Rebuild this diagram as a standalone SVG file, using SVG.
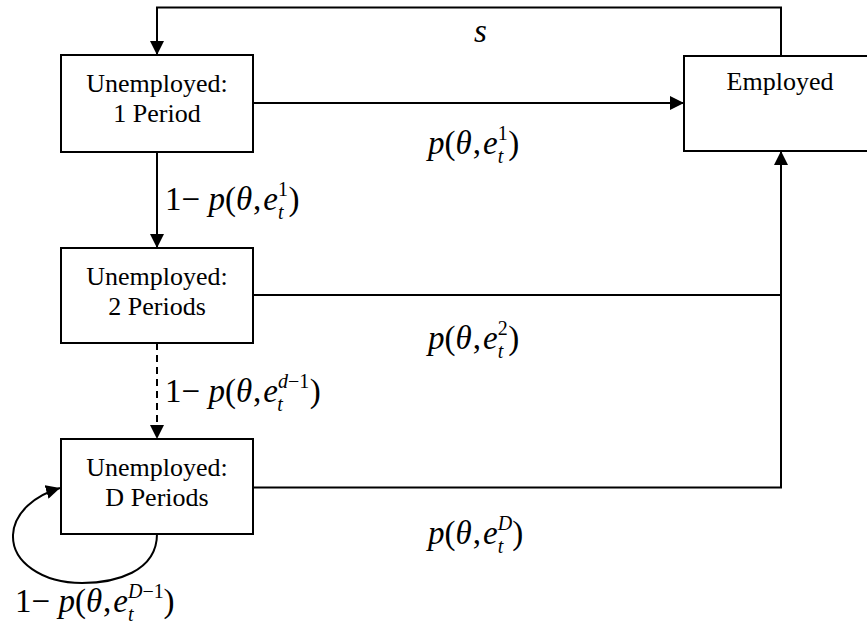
<svg xmlns="http://www.w3.org/2000/svg" width="867" height="628" viewBox="0 0 867 628">
<style>
.box{fill:#fff;stroke:#000;stroke-width:2}
.ln{fill:none;stroke:#000;stroke-width:2}
.dash{stroke-dasharray:7,5}
text{font-family:'Liberation Serif','Times New Roman','DejaVu Serif',serif;fill:#000}
.bt{font-size:26px;text-anchor:middle}
.m{font-size:33px}
.i{font-style:italic}
.s{font-size:20px}
</style>
<defs>
<marker id="ah" markerUnits="userSpaceOnUse" markerWidth="14" markerHeight="14" refX="14" refY="7" orient="auto">
<path d="M0,0 L14,7 L0,14 z" fill="#000"/>
</marker>
</defs>
<rect width="867" height="628" fill="#fff"/>
<g id="connectors">
<path class="ln" d="M781,56 V7.5 H157 V55" marker-end="url(#ah)"/>
<path class="ln" d="M253,103 H684" marker-end="url(#ah)"/>
<path class="ln" d="M157,152 V248" marker-end="url(#ah)"/>
<path class="ln dash" d="M157,343 V439" marker-end="url(#ah)"/>
<path class="ln" d="M253,295 H781"/>
<path class="ln" d="M253,487.5 H781 V151" marker-end="url(#ah)"/>
<path class="ln" d="M157,534 C157,572 115,583 82,583 C42,583 12,562 13,535 C14,512 36,495 60,488" marker-end="url(#ah)"/>
</g>
<g id="u1">
<rect class="box" x="61" y="55" width="192" height="97"/>
<text class="bt" x="157" y="92">Unemployed:</text>
<text class="bt" x="157" y="122">1 Period</text>
</g>
<g id="u2">
<rect class="box" x="61" y="248" width="192" height="95"/>
<text class="bt" x="157" y="285">Unemployed:</text>
<text class="bt" x="157" y="315">2 Periods</text>
</g>
<g id="ud">
<rect class="box" x="61" y="439" width="192" height="95"/>
<text class="bt" x="157" y="476">Unemployed:</text>
<text class="bt" x="157" y="506">D Periods</text>
</g>
<g id="employed">
<rect class="box" x="684" y="56" width="200" height="95"/>
<text class="bt" x="780" y="90">Employed</text>
</g>
<g id="labels">
<text class="m i" x="474" y="42">s</text>
<text class="m" x="428" y="154"><tspan class="i">p</tspan>(<tspan class="i">θ</tspan><tspan dx="1">,</tspan><tspan class="i" dx="2">e</tspan><tspan class="s" dy="-14">1</tspan><tspan class="s i" dx="-10" dy="23">t</tspan><tspan dx="5" dy="-9">)</tspan></text>
<text class="m" x="165" y="210">1− <tspan class="i">p</tspan>(<tspan class="i">θ</tspan><tspan dx="1">,</tspan><tspan class="i" dx="2">e</tspan><tspan class="s" dy="-14">1</tspan><tspan class="s i" dx="-10" dy="23">t</tspan><tspan dx="5" dy="-9">)</tspan></text>
<text class="m" x="428" y="349"><tspan class="i">p</tspan>(<tspan class="i">θ</tspan><tspan dx="1">,</tspan><tspan class="i" dx="2">e</tspan><tspan class="s" dy="-14">2</tspan><tspan class="s i" dx="-10" dy="23">t</tspan><tspan dx="5" dy="-9">)</tspan></text>
<text class="m" x="165" y="402">1− <tspan class="i">p</tspan>(<tspan class="i">θ</tspan><tspan dx="1">,</tspan><tspan class="i" dx="2">e</tspan><tspan class="s" dy="-14"><tspan class="i">d</tspan>−1</tspan><tspan class="s i" dx="-32" dy="23">t</tspan><tspan dx="27" dy="-9">)</tspan></text>
<text class="m" x="428" y="544"><tspan class="i">p</tspan>(<tspan class="i">θ</tspan><tspan dx="1">,</tspan><tspan class="i" dx="2">e</tspan><tspan class="s i" dy="-14">D</tspan><tspan class="s i" dx="-14.4" dy="23">t</tspan><tspan dx="9" dy="-9">)</tspan></text>
<text class="m" x="15" y="612">1− <tspan class="i">p</tspan>(<tspan class="i">θ</tspan><tspan dx="1">,</tspan><tspan class="i" dx="2">e</tspan><tspan class="s" dy="-14"><tspan class="i">D</tspan>−1</tspan><tspan class="s i" dx="-35.7" dy="23">t</tspan><tspan dx="30" dy="-9">)</tspan></text>
</g>
</svg>
